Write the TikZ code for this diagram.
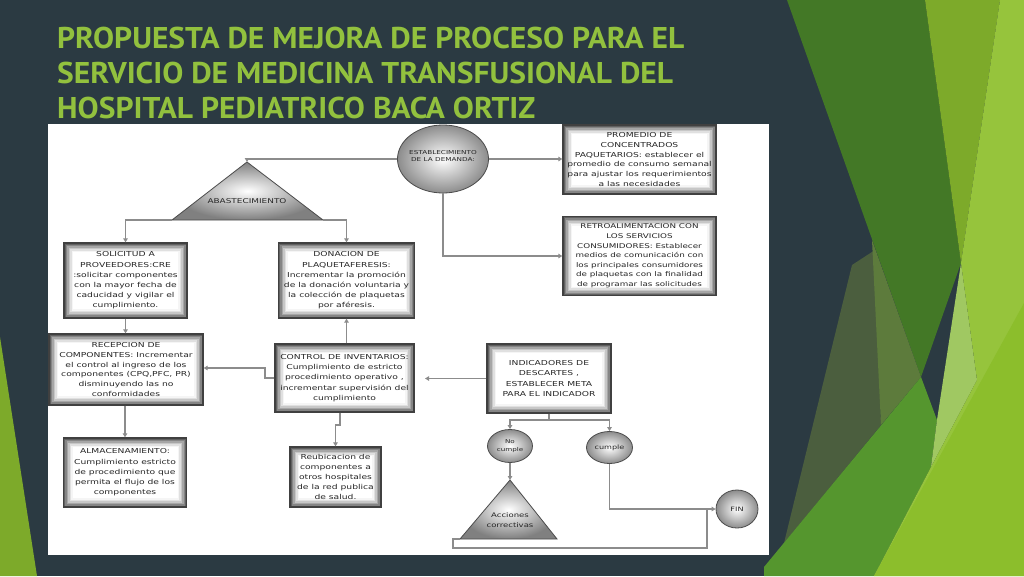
\documentclass[tikz,border=0pt]{standalone}
\usepackage{fontspec}
\setmainfont{DejaVu Sans}
\newfontfamily\boxfont{DejaVu Sans}[FakeStretch=1.35]
\newfontfamily\titlefont{PT Sans}[FakeStretch=1.05]
\usetikzlibrary{shapes.geometric,arrows.meta}
\definecolor{slate}{HTML}{2B3A42}
\definecolor{titlegreen}{HTML}{92C13E}
\definecolor{dkgreen}{HTML}{437826}
\definecolor{olive}{HTML}{7DAA2A}
\definecolor{ltgreen}{HTML}{96C43C}
\definecolor{midgreen}{HTML}{55962E}
\definecolor{brgreen}{HTML}{8CBE2C}
\definecolor{darkolive}{HTML}{4B5E3E}
\definecolor{litolive}{HTML}{5D7B3C}
\definecolor{sliver}{HTML}{A0C862}
\tikzset{
  box/.style={rectangle, draw=black!75, line width=1.3pt, align=center, inner sep=1pt,
    text=black!85, font=\boxfont\fontsize{6.8}{10.2}\selectfont,
    path picture={
      \foreach \sa/\sb in {0/62,1.5/48,3/35,4.5/22,6/12,7.5/4,9/0}{
        \fill[black!\sb] ([xshift=\sa pt,yshift=-\sa pt]path picture bounding box.north west)
          rectangle ([xshift=-\sa pt,yshift=\sa pt]path picture bounding box.south east);
      }
    }},
  oval/.style={ellipse, draw=black!70, line width=0.8pt, inner sep=0pt, shade,
    inner color=white, outer color=black!45, align=center, text=black!85},
  trishade/.style={draw=black!70, line width=0.8pt, shade, inner color=white, outer color=black!50},
  lbl/.style={align=center, inner sep=0pt, text=black!85},
  conn/.style={draw=black!45, line width=1.1pt},
  arr/.style={conn, -{Triangle[length=4pt,width=4.5pt]}},
  ttl/.style={anchor=base west, font=\titlefont\bfseries\fontsize{30}{35}\selectfont, text=titlegreen, inner sep=0}
}
\begin{document}
\begin{tikzpicture}[x=1pt,y=-1pt]
\useasboundingbox (0,0) rectangle (1024,576);
% background
\fill[slate] (0,0) rectangle (1024,576);
\fill[olive] (0,337) -- (0,576) -- (37,576) -- cycle;
\fill[dkgreen] (787,0) -- (925,0) -- (961,263) -- (921,377) -- cycle;
\fill[olive] (925,0) -- (1000,0) -- (961,263) -- cycle;
\fill[darkolive] (852,265) -- (875,250) -- (881,425) -- (784,543) -- cycle;
\fill[litolive] (872,240) -- (921,377) -- (881,425) -- cycle;
\fill[midgreen] (764,576) -- (764,567) -- (921,377) -- (937,420) -- (931,467) -- (874,576) -- cycle;
\fill[sliver] (961,263) -- (977,380) -- (931,467) -- (937,420) -- cycle;
\fill[ltgreen] (1000,0) -- (1024,0) -- (1024,576) -- (874,576) -- (931,467) -- (977,380) -- (961,263) -- cycle;
\fill[brgreen] (874,576) -- (1024,303) -- (1024,576) -- cycle;
% title
\node[ttl] (t1) at (57,48) {PROPUESTA DE MEJORA DE PROCESO PARA EL};
\node[ttl] (t2) at (57,83) {SERVICIO DE MEDICINA TRANSFUSIONAL DEL};
\node[ttl] (t3) at (57,118) {HOSPITAL PEDIATRICO BACA ORTIZ};
% panel
\fill[white] (48,124) rectangle (769,555);
% ellipses
\node[oval, minimum width=91pt, minimum height=68pt] (est) at (443,159) {};
\node[lbl, font=\boxfont\fontsize{5.4}{7.5}\selectfont] (estT) at (443,156) {ESTABLECIMIENTO\\DE LA DEMANDA:};
\node[oval, minimum width=45pt, minimum height=33pt, font=\boxfont\fontsize{5.3}{7.5}\selectfont] (no) at (510,446) {No\\cumple};
\node[oval, minimum width=46pt, minimum height=32pt, font=\boxfont\fontsize{6}{7.5}\selectfont] (cu) at (609.5,447.5) {cumple};
\node[oval, minimum width=42pt, minimum height=38pt, font=\boxfont\fontsize{6}{7.5}\selectfont] (fin) at (737,509) {FIN};
% triangles
\coordinate (abA) at (247,162);
\coordinate (abL) at (172,220);
\coordinate (abR) at (323,220);
\path[trishade] (abA) -- (abR) -- (abL) -- cycle;
\node[lbl, font=\boxfont\fontsize{6.6}{8}\selectfont] (abT) at (247,201) {ABASTECIMIENTO};
\coordinate (acA) at (510,480);
\coordinate (acL) at (460,539);
\coordinate (acR) at (557,539);
\path[trishade] (acA) -- (acR) -- (acL) -- cycle;
\node[lbl, font=\boxfont\fontsize{6.3}{10}\selectfont] (acT) at (510,520) {Acciones\\correctivas};
% boxes
\node[box, minimum width=153pt, minimum height=69pt, font=\boxfont\fontsize{6.8}{9.8}\selectfont] (prom) at (639.5,159.5)
  {PROMEDIO DE\\CONCENTRADOS\\PAQUETARIOS: establecer el\\promedio de consumo semanal\\para ajustar los requerimientos\\a las necesidades};
\node[box, minimum width=153pt, minimum height=79pt, font=\boxfont\fontsize{6.5}{9.6}\selectfont] (retro) at (639.5,256)
  {RETROALIMENTACION CON\\LOS SERVICIOS\\CONSUMIDORES: Establecer\\medios de comunicación con\\los principales consumidores\\de plaquetas con la finalidad\\de programar las solicitudes};
\node[box, minimum width=123pt, minimum height=75pt] (sol) at (125.5,280.5)
  {SOLICITUD A\\PROVEEDORES:CRE\\:solicitar componentes\\con la mayor fecha de\\caducidad y vigilar el\\cumplimiento.};
\node[box, minimum width=136pt, minimum height=75pt] (don) at (346.5,280.5)
  {DONACION DE\\PLAQUETAFERESIS:\\Incrementar la promoción\\de la donación voluntaria y\\la colección de plaquetas\\por aféresis.};
\node[box, minimum width=154pt, minimum height=71pt, font=\boxfont\fontsize{6.8}{9.8}\selectfont] (rec) at (126,369.5)
  {RECEPCION DE\\COMPONENTES: Incrementar\\el control al ingreso de los\\componentes (CPQ,PFC, PR)\\disminuyendo las no\\conformidades};
\node[box, minimum width=139pt, minimum height=68pt] (ctrl) at (344.5,378)
  {CONTROL DE INVENTARIOS:\\Cumplimiento de estricto\\procedimiento operativo ,\\incrementar supervisión del\\cumplimiento};
\node[box, minimum width=124pt, minimum height=69pt] (ind) at (549,378.5)
  {INDICADORES DE\\DESCARTES ,\\ESTABLECER META\\PARA EL INDICADOR};
\node[box, minimum width=123pt, minimum height=69pt] (alm) at (125,472.5)
  {ALMACENAMIENTO:\\Cumplimiento estricto\\de procedimiento que\\permita el flujo de los\\componentes};
\node[box, minimum width=91pt, minimum height=60pt] (reub) at (335.5,477)
  {Reubicacion de\\componentes a\\otros hospitales\\de la red publica\\de salud.};
% connectors
\draw[arr] (est.west) -| (abA);
\draw[arr] (est.east) -- (est.east -| prom.west);
\draw[arr] (est.south) |- (retro.west);
\draw[arr] (abL) -| (sol.north);
\draw[arr] (abR) -| (don.north);
\draw[arr] (sol.south) -- (sol.south |- rec.north);
\draw[arr] (alm.north |- rec.south) -- (alm.north);
\coordinate (cj) at (265,368);
\draw[arr] (ctrl.west) -| (cj) -- (cj -| rec.east);
\draw[arr] (don.south |- ctrl.north) -- (don.south);
\coordinate (rj) at (340,425);
\draw[arr] (rj |- ctrl.south) -- (rj) -| (reub.north);
\coordinate (ie) at (425,378.5);
\draw[arr] (ind.west) -- (ie);
\coordinate (ij) at (549,420);
\draw[conn] (ind.south) -- (ij);
\draw[arr] (ij) -| (no.north);
\draw[arr] (ij) -| (cu.north);
\draw[arr] (no.south) -- (acA);
\draw[arr] (cu.south) |- (fin.west);
\coordinate (aj1) at (453,548);
\coordinate (aj2) at (707,548);
\draw[conn] (acL) -| (aj1) -- (aj2) -- (aj2 |- fin.west);
\end{tikzpicture}
\end{document}
